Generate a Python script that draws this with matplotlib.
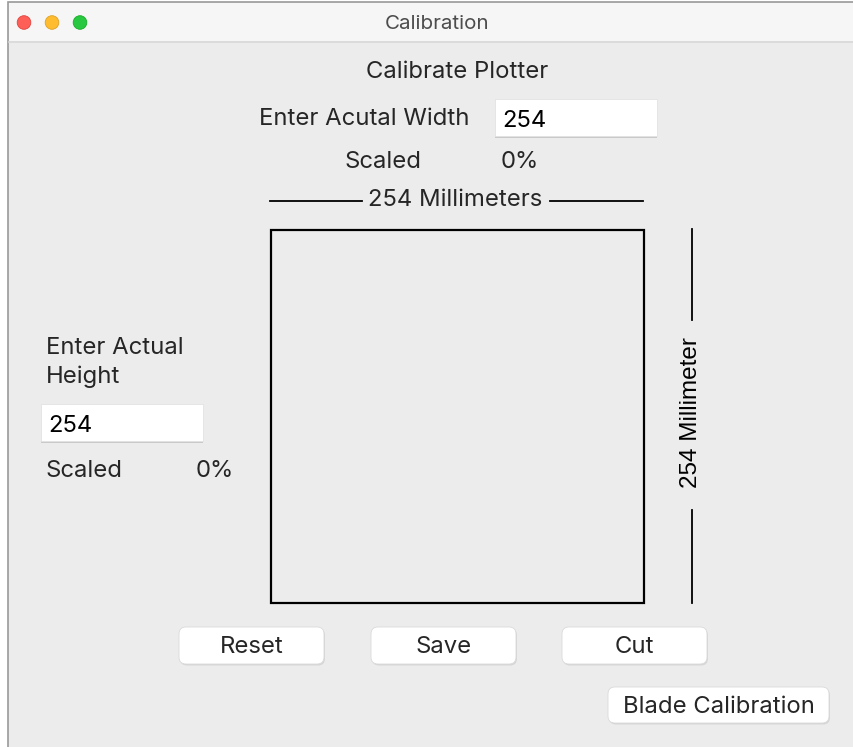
import matplotlib
matplotlib.use("Agg")
import matplotlib.pyplot as plt
from matplotlib.patches import Rectangle, FancyBboxPatch, Circle

W, H = 854, 747
window_title = "Calibration"
heading = "Calibrate Plotter"
width_label = "Enter Acutal Width"
height_label = "Enter Actual\nHeight"
width_value = "254"
height_value = "254"
scaled_label = "Scaled"
scaled_width = "0%"
scaled_height = "0%"
top_dim = "254 Millimeters"
side_dim = "254 Millimeter"
buttons = ["Reset", "Save", "Cut", "Blade Calibration"]

UI = "Inter"
TXT = "#262626"
FS = 17.2
DY = 1.8

fig = plt.figure(figsize=(W / 100, H / 100), dpi=100)
fig.patch.set_facecolor("white")
ax = fig.add_axes([0, 0, 1, 1])
ax.set_xlim(0, W)
ax.set_ylim(H, 0)
ax.axis("off")

# window
ax.add_patch(Rectangle((8, 2), W, H, facecolor="#ececec", edgecolor="#9a9a9a", lw=1.2, zorder=0))
ax.add_patch(Rectangle((8.6, 2.6), W, 40, facecolor="#f6f6f6", edgecolor="none", zorder=1))
ax.plot([8.6, W], [42, 42], color="#d6d6d6", lw=1.2, zorder=2)
for cx, col, ec in [(24, "#fe5f57", "#e0443e"), (52, "#febc2e", "#dea123"), (80, "#28c840", "#1aab29")]:
    ax.add_patch(Circle((cx, 22.5), 6.8, facecolor=col, edgecolor=ec, lw=0.6, zorder=3))
ax.text(437, 23 + DY / 2, window_title, ha="center", va="center", fontsize=14.8, color="#4d4d4d", family=UI, zorder=3)

def label(x, y, s, ha="left", size=FS, color=TXT, **kw):
    ax.text(x, y + DY, s, ha=ha, va="center", fontsize=size, color=color, family=UI, zorder=4, **kw)

def field(x0, y0, x1, y1, s):
    ax.add_patch(Rectangle((x0, y1 - 1), x1 - x0, 1.5, facecolor="#c9c9c9", edgecolor="none", zorder=3))
    ax.add_patch(Rectangle((x0, y0), x1 - x0, y1 - y0 - 1, facecolor="white", edgecolor="#e2e2e2", lw=0.6, zorder=3))
    ax.text(x0 + 7, (y0 + y1) / 2 + 1 + DY, s, ha="left", va="center", fontsize=FS, color="black", family=UI, zorder=4)

label(457, 70, heading, ha="center")
label(364, 117, width_label, ha="center")
field(495, 99, 657, 137, width_value)
label(383, 160, scaled_label, ha="center")
label(520, 160, scaled_width, ha="center")

# top dimension
ax.plot([270, 362], [201, 201], color="black", lw=1.3, zorder=3)
ax.plot([550, 643], [201, 201], color="black", lw=1.3, zorder=3)
label(455, 198, top_dim, ha="center")

# square
ax.add_patch(Rectangle((271, 229.5), 373, 373, facecolor="none", edgecolor="black", lw=1.6, zorder=3))

# side dimension
ax.plot([692, 692], [229, 320], color="black", lw=1.3, zorder=3)
ax.plot([692, 692], [510, 603], color="black", lw=1.3, zorder=3)
ax.text(691, 413, side_dim, rotation=90, ha="center", va="center", fontsize=17.5,
        color="black", family="Liberation Sans", zorder=4)

# left panel
ax.text(46, 361 + DY, height_label, ha="left", va="center", fontsize=FS, color=TXT, family=UI,
        linespacing=1.38, zorder=4)
field(41, 404, 203, 442, height_value)
label(46, 469, scaled_label)
label(215, 469, scaled_height, ha="center")

# buttons
btn_boxes = [(179, 627, 324, 664), (371, 627, 516, 664), (562, 627, 707, 664), (608, 687, 829, 723)]
for name, (x0, y0, x1, y1) in zip(buttons, btn_boxes):
    ax.add_patch(FancyBboxPatch((x0 + 1, y0 + 1.5), x1 - x0, y1 - y0,
                                boxstyle="round,pad=0,rounding_size=7",
                                facecolor="#c8c8c8", edgecolor="none", alpha=0.6, zorder=3))
    ax.add_patch(FancyBboxPatch((x0, y0), x1 - x0, y1 - y0,
                                boxstyle="round,pad=0,rounding_size=7",
                                facecolor="white", edgecolor="#dadada", lw=0.6, zorder=3))
    ax.text((x0 + x1) / 2, (y0 + y1) / 2 + DY, name, ha="center", va="center", fontsize=FS,
            color=TXT, family=UI, zorder=4)

fig.savefig("out.png", dpi=100, facecolor=fig.get_facecolor())
